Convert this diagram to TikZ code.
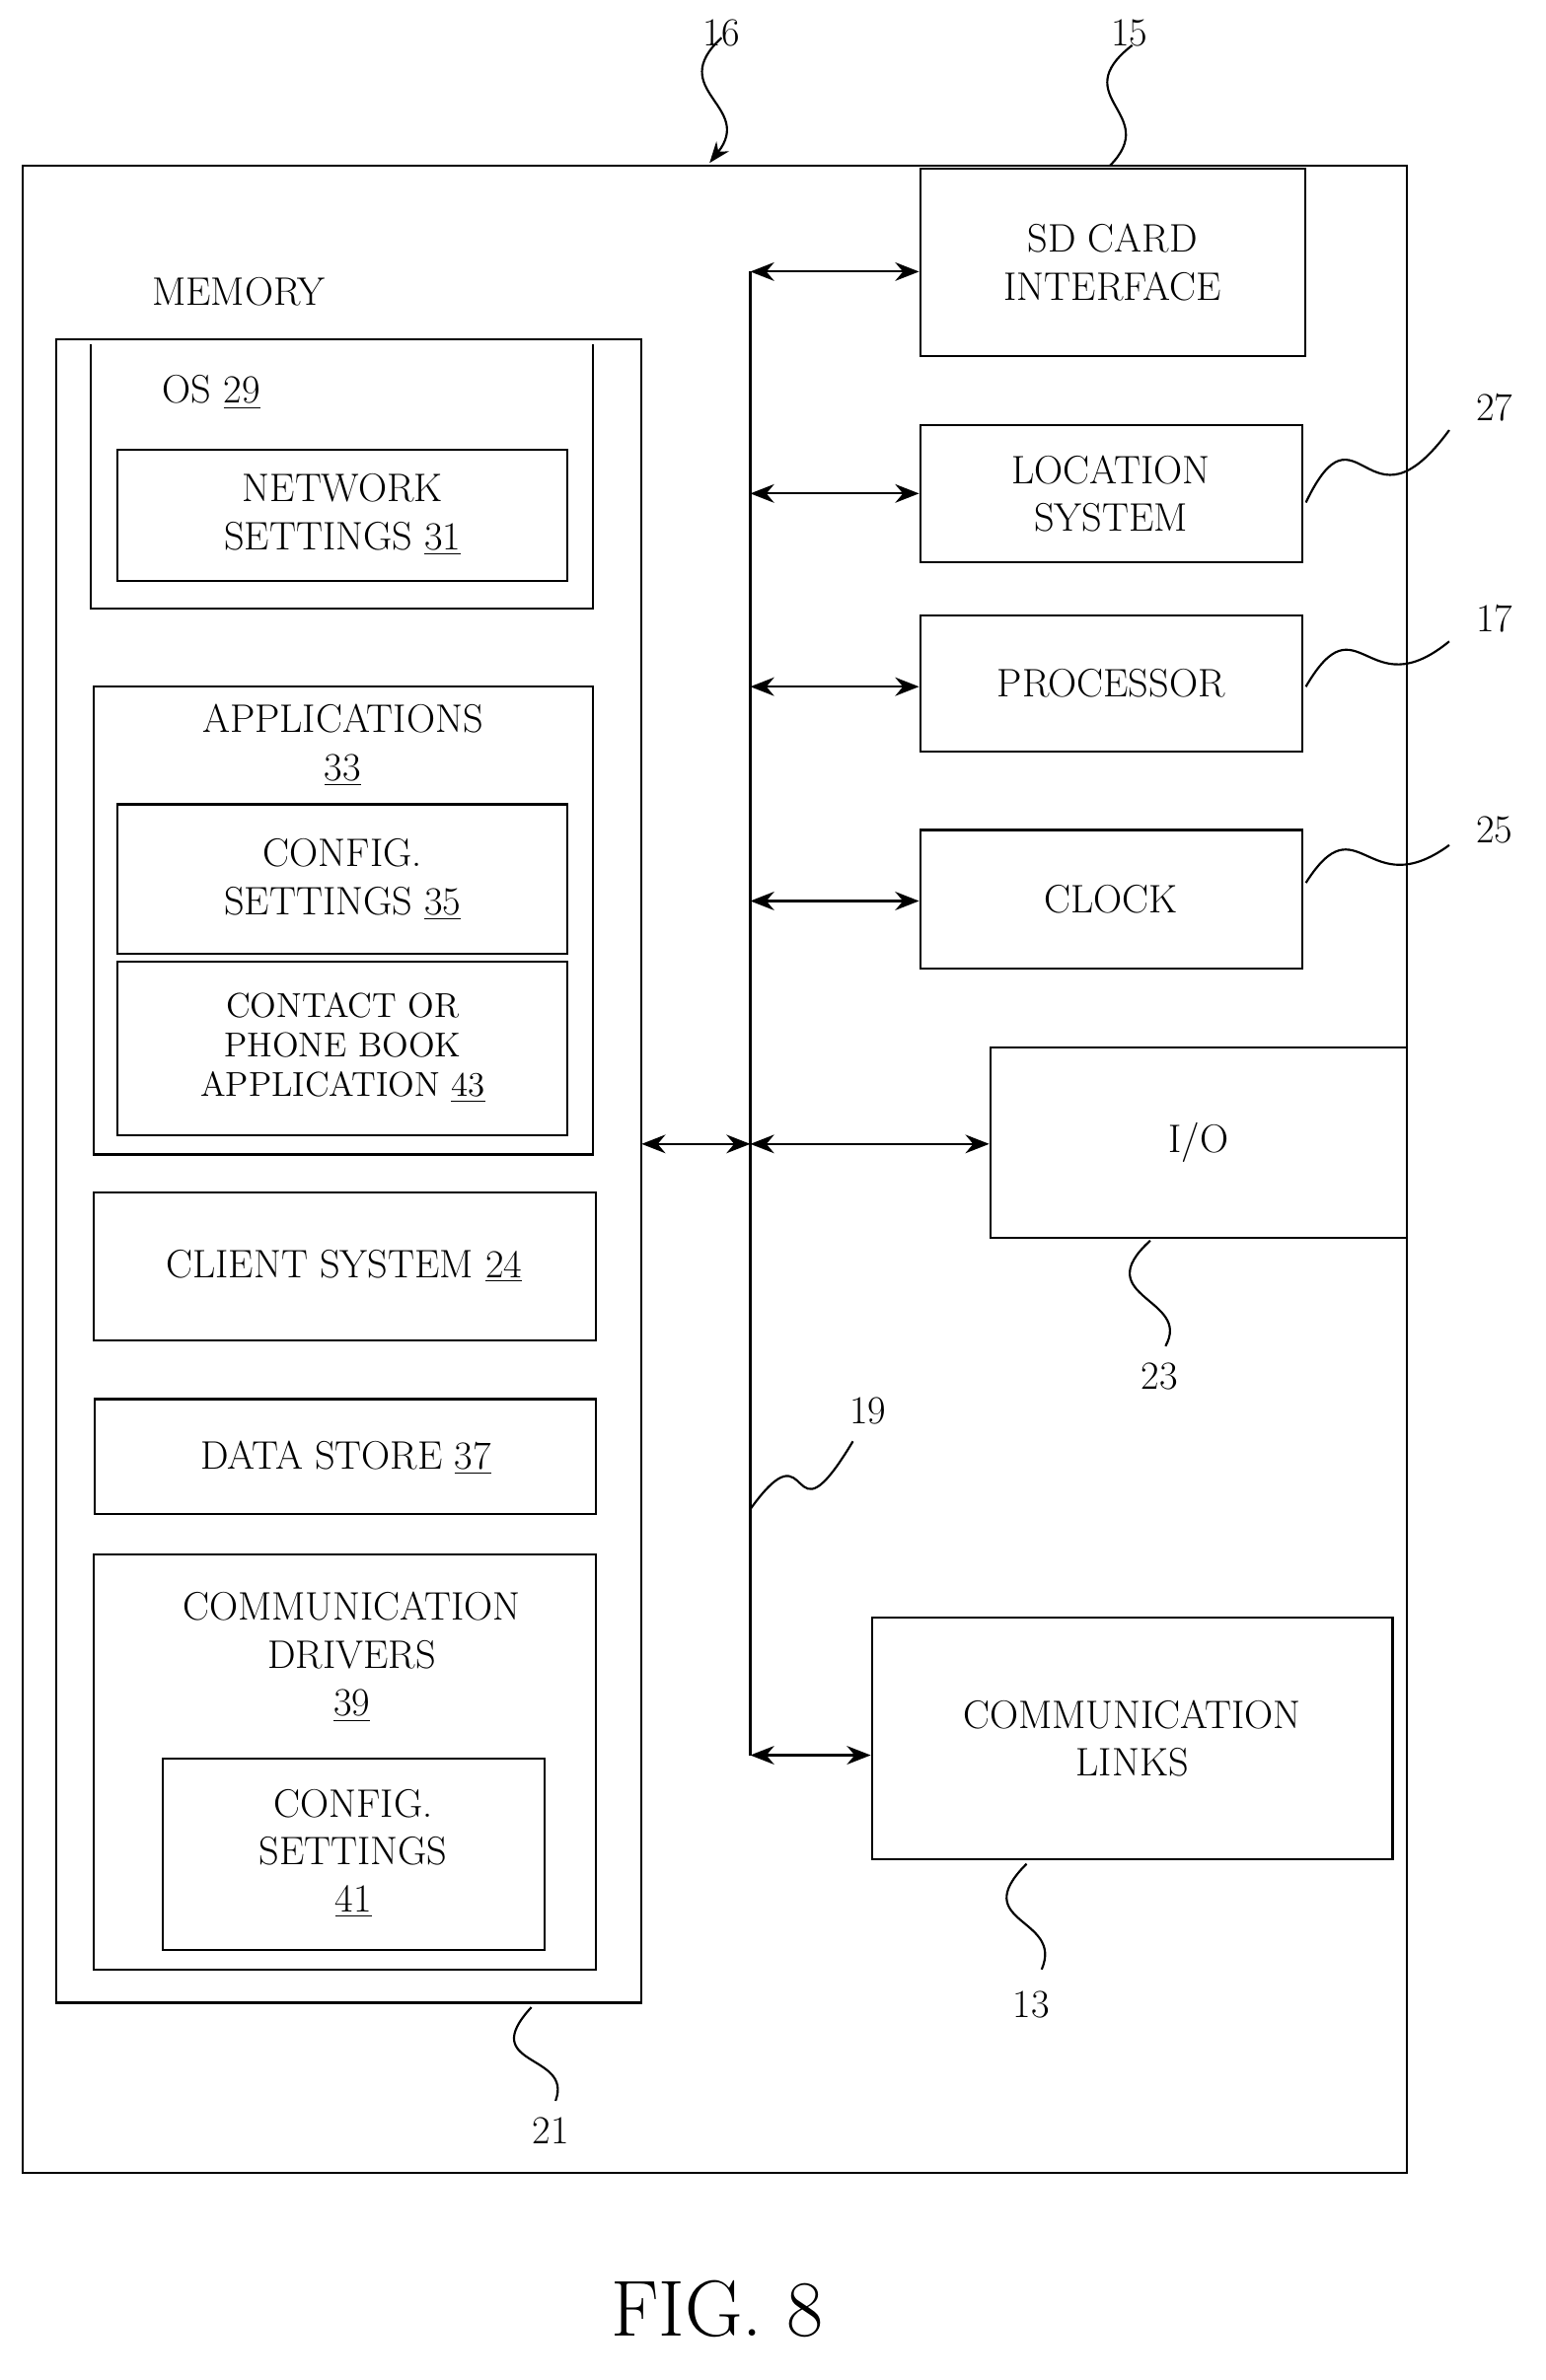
\documentclass[tikz,border=0pt]{standalone}
\usetikzlibrary{arrows.meta}
\begin{document}
\begin{tikzpicture}[x=0.02cm,y=-0.02cm,
  box/.style={draw,thick},
  lbl/.style={font=\fontsize{15}{18}\selectfont,align=center},
  bus/.style={{Stealth[length=9pt,width=7pt]}-{Stealth[length=9pt,width=7pt]},thick},
  sq/.style={thick}]

\useasboundingbox (0,0) rectangle (1024,1577);

% Gehaeuse und Speicher
\draw[box] (15,110) rectangle (932,1440);
\draw[box] (37,225) rectangle (425,1327);
\node[lbl] (mem) at (158,193) {MEMORY};

% OS
\draw[box] (60,228) -- (60,403) -- (393,403) -- (393,228);
\node[lbl] (os) at (140,260) {OS \underline{29}};
\draw[box] (78,298) rectangle (376,385);
\node[lbl] (net) at (227,341) {NETWORK\\SETTINGS \underline{31}};

% Anwendungen
\draw[box] (62,455) rectangle (393,765);
\node[lbl] (app) at (227,494) {APPLICATIONS\\\underline{33}};
\draw[box] (78,533) rectangle (376,632);
\node[lbl] (cfg) at (227,583) {CONFIG.\\SETTINGS \underline{35}};
\draw[box] (78,637) rectangle (376,752);
\node[lbl,font=\fontsize{13}{15}\selectfont] (contact) at (227,694) {CONTACT OR\\PHONE BOOK\\APPLICATION \underline{43}};

\draw[box] (62,790) rectangle (395,888);
\node[lbl] (client) at (228,839) {CLIENT SYSTEM \underline{24}};
\draw[box] (63,927) rectangle (395,1003);
\node[lbl] (data) at (229,966) {DATA STORE \underline{37}};

% Treiber
\draw[box] (62,1030) rectangle (395,1305);
\node[lbl] (drv) at (233,1098) {COMMUNICATION\\DRIVERS\\\underline{39}};
\draw[box] (108,1165) rectangle (361,1292);
\node[lbl] (cfg2) at (234,1228) {CONFIG.\\SETTINGS\\\underline{41}};

% rechte Bloecke
\node[box,lbl,minimum width=255*0.02cm,minimum height=124*0.02cm] (sd) at (737,174) {SD CARD\\INTERFACE};
\node[box,lbl,minimum width=253*0.02cm,minimum height=91*0.02cm] (loc) at (736,327) {LOCATION\\SYSTEM};
\node[box,lbl,minimum width=253*0.02cm,minimum height=90*0.02cm] (proc) at (736,453) {PROCESSOR};
\node[box,lbl,minimum width=253*0.02cm,minimum height=92*0.02cm] (clk) at (736,596) {CLOCK};
\node[box,lbl,minimum width=276*0.02cm,minimum height=126*0.02cm] (io) at (794,757) {I/O};
\node[box,lbl,minimum width=345*0.02cm,minimum height=160*0.02cm] (links) at (750,1152) {COMMUNICATION\\LINKS};

% Bus
\coordinate (b0) at (497,180);
\coordinate (b1) at (497,327);
\coordinate (b2) at (497,455);
\coordinate (b3) at (497,597);
\coordinate (b4) at (497,758);
\coordinate (b5) at (497,1163);
\coordinate (m4) at (425,758);
\draw[thick] (b0) -- (b5);
\draw[bus] (b0) -- (sd.west |- b0);
\draw[bus] (b1) -- (loc.west |- b1);
\draw[bus] (b2) -- (proc.west |- b2);
\draw[bus] (b3) -- (clk.west |- b3);
\draw[bus] (b4) -- (io.west |- b4);
\draw[bus] (m4) -- (b4);
\draw[bus] (b5) -- (links.west |- b5);

% Bezugszeichen
\draw[sq,-{Stealth[length=8pt]}] (478,25) .. controls (440,60) and (500,70) .. (470,108);
\node[lbl] (n16) at (478,22) {16};
\draw[sq] (750,30) .. controls (705,65) and (770,75) .. (735,110);
\node[lbl] (n15) at (748,22) {15};
\draw[sq] (865,333) .. controls (900,260) and (905,360) .. (960,285);
\node[lbl] (n27) at (990,270) {27};
\draw[sq] (865,455) .. controls (900,395) and (905,470) .. (960,425);
\node[lbl] (n17) at (990,410) {17};
\draw[sq] (865,585) .. controls (900,530) and (905,600) .. (960,560);
\node[lbl] (n25) at (990,550) {25};
\draw[sq] (762,822) .. controls (720,860) and (790,860) .. (772,892);
\node[lbl] (n23) at (768,912) {23};
\draw[sq] (497,1000) .. controls (540,940) and (520,1030) .. (565,955);
\node[lbl] (n19) at (575,935) {19};
\draw[sq] (680,1235) .. controls (640,1275) and (705,1270) .. (690,1305);
\node[lbl] (n13) at (683,1328) {13};
\draw[sq] (352,1330) .. controls (315,1370) and (380,1360) .. (368,1392);
\node[lbl] (n21) at (365,1412) {21};

\node[font=\fontsize{30}{34}\selectfont] (fig) at (475,1530) {FIG. 8};
\end{tikzpicture}
\end{document}
